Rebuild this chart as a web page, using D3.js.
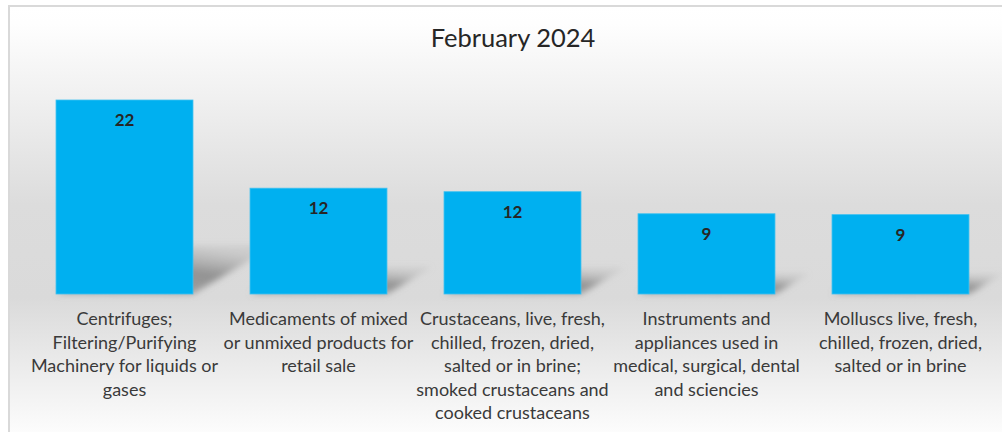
<!DOCTYPE html>
<html>
<head>
<meta charset="utf-8">
<script src="https://cdn.jsdelivr.net/npm/d3@7"></script>
<style>
  html, body { margin: 0; padding: 0; background: #fff; }
  svg { display: block; }
</style>
</head>
<body>
<script>
// DATA
const title = 'February 2024';
const categories = [
    'Centrifuges;\nFiltering/Purifying\nMachinery for liquids or\ngases',
    'Medicaments of mixed\nor unmixed products for\nretail sale',
    'Crustaceans, live, fresh,\nchilled, frozen, dried,\nsalted or in brine;\nsmoked crustaceans and\ncooked crustaceans',
    'Instruments and\nappliances used in\nmedical, surgical, dental\nand sciencies',
    'Molluscs live, fresh,\nchilled, frozen, dried,\nsalted or in brine'
];
const values = [22, 12, 11.6, 9.1, 9.0];

// DEFS
const width = 1002;
const height = 432;
const baseline = 294;
const barColor = '#00B0F0';
const labelFont = 'Lato, "Open Sans", sans-serif';

const svg = d3.select('body').append('svg')
    .attr('width', width)
    .attr('height', height);

const defs = svg.append('defs');

const bgGradient = defs.append('linearGradient')
    .attr('id', 'bgGradient')
    .attr('x1', 0).attr('y1', 0).attr('x2', 0).attr('y2', 1);
[[0, '#ffffff'], [0.04, '#fefefe'], [0.45, '#dcdcdc'], [0.66, '#dadada'], [0.99, '#ffffff']]
    .forEach(([o, c]) => bgGradient.append('stop').attr('offset', o).attr('stop-color', c));

const shadowBlur = defs.append('filter')
    .attr('id', 'shadowBlur')
    .attr('x', '-30%').attr('y', '-30%').attr('width', '160%').attr('height', '160%');
shadowBlur.append('feGaussianBlur').attr('stdDeviation', 3);

const shadowGradient = defs.append('linearGradient')
    .attr('id', 'shadowGradient')
    .attr('x1', 0).attr('y1', 1).attr('x2', 0.6).attr('y2', 0);
shadowGradient.append('stop').attr('offset', 0).attr('stop-color', '#888').attr('stop-opacity', 0.6);
shadowGradient.append('stop').attr('offset', 0.6).attr('stop-color', '#8a8a8a').attr('stop-opacity', 0.9);
shadowGradient.append('stop').attr('offset', 1).attr('stop-color', '#aaa').attr('stop-opacity', 0.3);

// BACKGROUND
svg.append('rect')
    .attr('x', 9).attr('y', 6)
    .attr('width', width + 10).attr('height', height + 10)
    .attr('fill', 'url(#bgGradient)')
    .attr('stroke', '#d9d9d9')
    .attr('stroke-width', 2);

// SCALES
const x = d3.scaleBand()
    .domain(categories)
    .range([27.5, 997.5])
    .paddingInner(0.294)
    .paddingOuter(0.147);

const y = d3.scaleLinear()
    .domain([0, 25])
    .range([baseline, baseline - 25 * 8.818]);

// TITLE
svg.append('text')
    .attr('x', 513)
    .attr('y', 47)
    .attr('text-anchor', 'middle')
    .style('font', `25.5px ${labelFont}`)
    .attr('fill', '#262626')
    .text(title);

// SHADOWS
const shadowGroup = svg.append('g').attr('class', 'shadows').attr('filter', 'url(#shadowBlur)');
shadowGroup.selectAll('path')
    .data(values)
    .enter().append('path')
    .attr('fill', 'url(#shadowGradient)')
    .attr('d', (d, i) => {
        const x0 = x(categories[i]);
        const x1 = x0 + x.bandwidth();
        const h = baseline - y(d);
        const dx = h * 0.42;
        const dy = h * 0.25;
        return `M${x0},${baseline}L${x1},${baseline}L${x1 + dx},${baseline - dy}L${x0 + dx},${baseline - dy}Z`;
    });

// BARS
svg.append('g').attr('class', 'bars')
    .selectAll('rect')
    .data(values)
    .enter().append('rect')
    .attr('x', (d, i) => x(categories[i]))
    .attr('y', d => y(d))
    .attr('width', x.bandwidth())
    .attr('height', d => baseline - y(d))
    .attr('fill', barColor)
    .attr('stroke', '#3fc1f0')
    .attr('stroke-width', 0.8);

// DATA LABELS
svg.append('g').attr('class', 'dataLabels')
    .selectAll('text')
    .data(values)
    .enter().append('text')
    .attr('x', (d, i) => x(categories[i]) + x.bandwidth() / 2)
    .attr('y', d => y(d) + 26)
    .attr('text-anchor', 'middle')
    .style('font', `bold 17px ${labelFont}`)
    .attr('fill', '#262626')
    .text(d => d3.format('.0f')(d));

// CATEGORY LABELS
const catLabels = svg.append('g').attr('class', 'categoryLabels')
    .selectAll('text')
    .data(categories)
    .enter().append('text')
    .attr('text-anchor', 'middle')
    .style('font', `18px ${labelFont}`)
    .attr('fill', '#3a3a3a');

catLabels.selectAll('tspan')
    .data(d => d.split('\n').map(line => ({cat: d, line})))
    .enter().append('tspan')
    .attr('x', d => x(d.cat) + x.bandwidth() / 2)
    .attr('y', (d, i) => 325 + i * 23.5)
    .text(d => d.line);
</script>
</body>
</html>
